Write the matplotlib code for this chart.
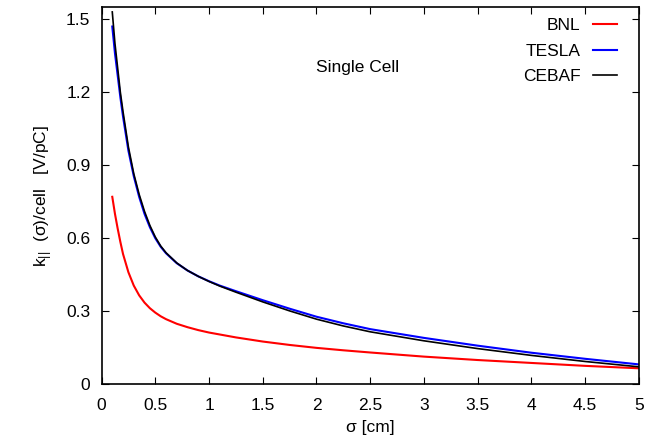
import matplotlib
matplotlib.use("Agg")
import matplotlib.pyplot as plt

plt.rcParams['font.family'] = ['Liberation Sans', 'DejaVu Sans']
plt.rcParams['mathtext.fontset'] = 'custom'
plt.rcParams['mathtext.rm'] = 'Liberation Sans'
plt.rcParams['mathtext.it'] = 'Liberation Sans'

sigma = [0.10, 0.125, 0.15, 0.175, 0.20, 0.25, 0.30, 0.35, 0.40, 0.45, 0.50, 0.55, 0.60,
         0.70, 0.80, 0.90, 1.00, 1.10, 1.25, 1.50, 1.75, 2.00, 2.25, 2.50, 3.00, 3.50,
         4.00, 4.50, 5.00]
bnl = [0.77, 0.70, 0.64, 0.585, 0.535, 0.46, 0.405, 0.365, 0.335, 0.312, 0.294, 0.279, 0.267,
       0.248, 0.234, 0.222, 0.212, 0.204, 0.192, 0.175, 0.161, 0.149, 0.139, 0.130, 0.113, 0.099,
       0.087, 0.075, 0.065]
tesla = [1.47, 1.36, 1.27, 1.18, 1.10, 0.96, 0.855, 0.77, 0.70, 0.645, 0.60, 0.565, 0.538,
         0.497, 0.467, 0.443, 0.423, 0.405, 0.382, 0.345, 0.31, 0.277, 0.25, 0.226, 0.19, 0.158,
         0.129, 0.104, 0.081]
cebaf = [1.53, 1.40, 1.30, 1.20, 1.12, 0.975, 0.865, 0.78, 0.71, 0.652, 0.605, 0.568, 0.54,
         0.498, 0.467, 0.443, 0.422, 0.403, 0.378, 0.338, 0.301, 0.267, 0.239, 0.215, 0.178, 0.146,
         0.118, 0.093, 0.071]

xticks = [0, 0.5, 1, 1.5, 2, 2.5, 3, 3.5, 4, 4.5, 5]
xticklabels = ['0', '0.5', '1', '1.5', '2', '2.5', '3', '3.5', '4', '4.5', '5']
yticks = [0, 0.3, 0.6, 0.9, 1.2, 1.5]
yticklabels = ['0', '0.3', '0.6', '0.9', '1.2', '1.5']

FS = 12.5

fig = plt.figure(figsize=(6.55, 4.41), dpi=100)
ax = fig.add_axes([0.155, 0.129, 0.8205, 0.855])

ax.plot(sigma, bnl, color='#ff0000', lw=1.5, label='BNL')
ax.plot(sigma, tesla, color='#0000ff', lw=1.5, label='TESLA')
ax.plot(sigma, cebaf, color='black', lw=1.2, label='CEBAF')

ax.set_xlim(0, 5)
ax.set_ylim(0, 1.55)
ax.set_xticks(xticks)
ax.set_xticklabels(xticklabels)
ax.set_yticks(yticks)
ax.set_yticklabels(yticklabels)
ax.tick_params(direction='in', top=True, right=True, length=5, width=0.8,
               labelsize=FS)
ax.tick_params(axis='x', pad=10)
ax.tick_params(axis='y', pad=8)
for s in ax.spines.values():
    s.set_linewidth(1.2)

ax.set_xlabel('σ [cm]', fontsize=FS, labelpad=5)
ax.set_ylabel(r'k$_{||}$  (σ)/cell   [V/pC]', fontsize=FS, labelpad=8)

ax.text(2.385, 1.30, 'Single Cell', fontsize=FS, ha='center', va='center')

leg = ax.legend(loc='upper right', frameon=False, markerfirst=False, fontsize=FS,
                handlelength=1.4, handletextpad=0.7, labelspacing=0.6,
                borderaxespad=0, borderpad=0,
                bbox_to_anchor=(1 - 22 / 537.5, 1 - 11 / 377))

fig.savefig('out.png', dpi=100)
